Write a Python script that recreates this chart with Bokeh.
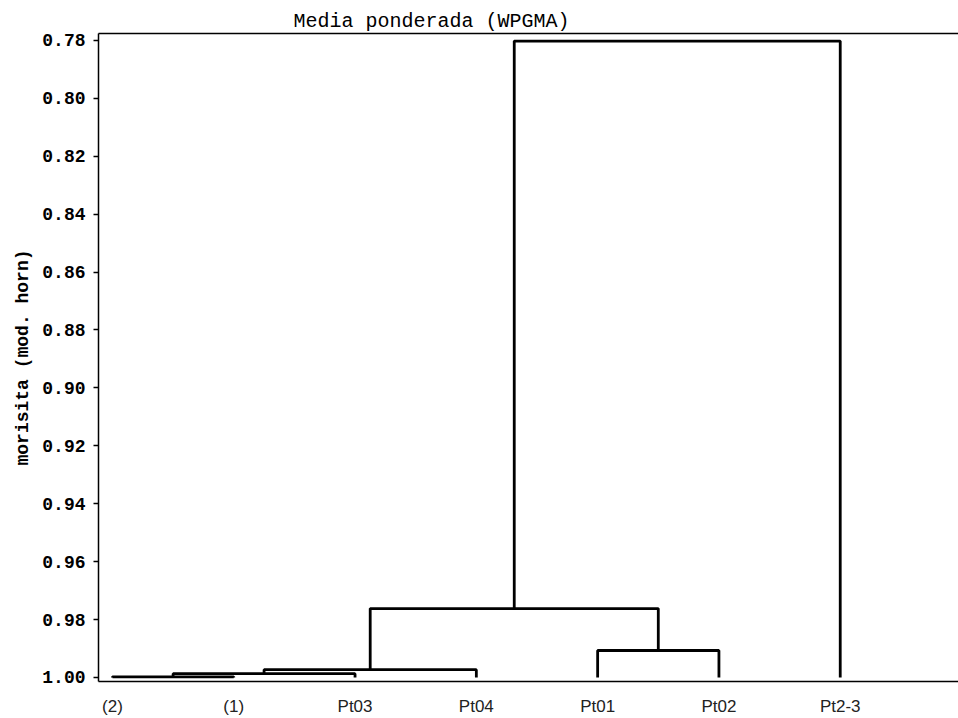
from bokeh.plotting import figure
from bokeh.models import Range1d, FixedTicker, PrintfTickFormatter, LinearAxis
from bokeh.embed import file_html
from bokeh.resources import INLINE

# ---- data ----
leaves = ["(2)", "(1)", "Pt03", "Pt04", "Pt01", "Pt02", "Pt2-3"]
# linkage: node ids 0..6 are leaves, new nodes numbered from 7 in order
merge_left = [0, 7, 8, 4, 9, 11]
merge_right = [1, 2, 3, 5, 10, 6]
merge_height = [0.9998, 0.9987, 0.9973, 0.9907, 0.9762, 0.7802]
leaf_height = 1.0
y_ticks = [0.78, 0.80, 0.82, 0.84, 0.86, 0.88, 0.90, 0.92, 0.94, 0.96, 0.98, 1.00]
title_text = "Media ponderada (WPGMA)"
y_label = "morisita (mod. horn)"

# ---- dendrogram geometry from linkage ----
n = len(leaves)
pos = {i: float(i) for i in range(n)}
hgt = {i: leaf_height for i in range(n)}
xs, ys = [], []
for k, (a, b, h) in enumerate(zip(merge_left, merge_right, merge_height)):
    xa, xb = pos[a], pos[b]
    xs.append([xa, xa, xb, xb])
    ys.append([hgt[a], h, h, hgt[b]])
    pos[n + k] = (xa + xb) / 2.0
    hgt[n + k] = h

p = figure(frame_width=860, frame_height=648, output_backend="svg", toolbar_location=None,
           x_range=Range1d(-0.115, 6.975), y_range=Range1d(1.0014, 0.7776),
           min_border_left=98, min_border_right=0, min_border_top=33, min_border_bottom=0,
           title=title_text)

p.title.align = "left"
p.title.offset = 195
p.title.text_font = "Liberation Mono"
p.title.text_font_size = "20px"
p.title.text_font_style = "normal"
p.title.text_color = "black"
p.title.standoff = 2

p.background_fill_color = "white"
p.border_fill_color = "white"
p.outline_line_color = None
p.xgrid.visible = False
p.ygrid.visible = False

p.multi_line(xs, ys, line_color="black", line_width=2.8)

# x axis (below)
xb = p.below[0]
xb.ticker = FixedTicker(ticks=list(range(n)))
xb.major_label_overrides = {i: name for i, name in enumerate(leaves)}
xb.major_label_text_font = "Liberation Sans"
xb.major_label_text_font_size = "17px"
xb.major_label_text_color = "#222222"
xb.major_label_standoff = 15
xb.major_tick_line_color = None
xb.major_tick_out = 0
xb.major_tick_in = 0
xb.minor_tick_line_color = None
xb.axis_line_width = 1.5

# y axis
ya = p.left[0]
ya.ticker = FixedTicker(ticks=y_ticks)
ya.formatter = PrintfTickFormatter(format="%.2f")
ya.axis_label = y_label
ya.axis_label_text_font = "Liberation Mono"
ya.axis_label_text_font_style = "bold"
ya.axis_label_text_font_size = "18px"
ya.axis_label_text_color = "black"
ya.axis_label_standoff = 6
ya.major_label_text_font = "Liberation Mono"
ya.major_label_text_font_style = "bold"
ya.major_label_text_font_size = "18px"
ya.major_label_text_color = "black"
ya.major_label_standoff = 8
ya.major_tick_out = 5
ya.major_tick_in = 0
ya.minor_tick_line_color = None
ya.axis_line_width = 1.5
ya.major_tick_line_width = 1.5

# top border line (no ticks/labels)
top = LinearAxis(ticker=FixedTicker(ticks=[]), major_label_text_font_size="0px",
                 major_tick_line_color=None, minor_tick_line_color=None,
                 major_tick_out=0, major_tick_in=0,
                 axis_line_width=1.5, axis_line_color="black",
                 major_label_standoff=0)
p.add_layout(top, "above")

open("out.html", "w").write(file_html(p, INLINE))
